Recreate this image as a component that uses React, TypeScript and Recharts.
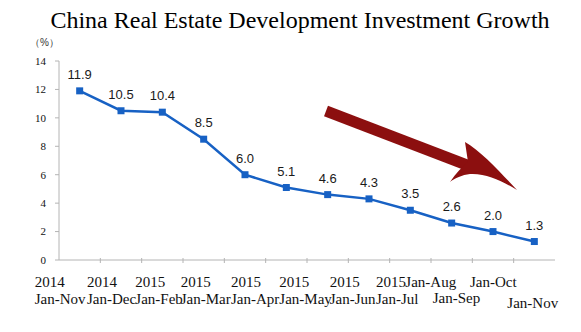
import { LineChart, Line, XAxis, YAxis, LabelList } from 'recharts'

// categories: period covered by each cumulative growth figure
const categories = [
  '2014 Jan-Nov', '2014 Jan-Dec', '2015 Jan-Feb', '2015 Jan-Mar', '2015 Jan-Apr', '2015 Jan-May',
  '2015 Jan-Jun', '2015 Jan-Jul', 'Jan-Aug', 'Jan-Sep', 'Jan-Oct', 'Jan-Nov',
]
const yearLabels = ['2014', '2014', '2015', '2015', '2015', '2015', '2015', '2015', '', '', '', '']
const periodLabels = [
  'Jan-Nov', 'Jan-Dec', 'Jan-Feb', 'Jan-Mar', 'Jan-Apr', 'Jan-May',
  'Jan-Jun', 'Jan-Jul', 'Jan-Aug', 'Jan-Sep', 'Jan-Oct', 'Jan-Nov',
]
const growth = [11.9, 10.5, 10.4, 8.5, 6.0, 5.1, 4.6, 4.3, 3.5, 2.6, 2.0, 1.3]
const yTicks = [0, 2, 4, 6, 8, 10, 12, 14]

// label placement tweaks (the source lays its labels out unevenly)
const TICK_DX = [-45, -34, -27, -23, -14, -7, 2, 7, -5, -19, -23, -27]
const PERIOD_BASELINE = [44, 44, 44, 44, 44, 44, 44, 44, 27, 43, 27, 48]

const BLUE = '#1761c4'
const GREY = '#b4b4b4'
const RED = '#8c0f0f'
const SERIF = '"Liberation Serif", "Times New Roman", serif'
const SANS = '"Liberation Sans", Arial, sans-serif'
const HALF_BAND = 496 / 12 / 2

const data = categories.map((cat, i) => ({ cat, growth: growth[i] }))

function PeriodTick(props: any) {
  const { x, y, payload } = props
  const i = payload.index
  const left = x + TICK_DX[i]
  return (
    <g>
      {/* Excel-style tick marks sit between categories */}
      {i < categories.length - 1 && (
        <line x1={x + HALF_BAND} x2={x + HALF_BAND} y1={y - 2} y2={y + 3} stroke={GREY} />
      )}
      {yearLabels[i] && (
        <text x={left} y={y + 27} textAnchor="start" fontFamily={SERIF} fontSize={15} fill="#111">
          {yearLabels[i]}
        </text>
      )}
      <text x={left} y={y + PERIOD_BASELINE[i]} textAnchor="start" fontFamily={SERIF} fontSize={15} fill="#111">
        {periodLabels[i]}
      </text>
    </g>
  )
}

function SquareDot(props: any) {
  const { cx, cy, index } = props
  if (cx == null || cy == null) return null
  return <rect key={index} x={cx - 3.5} y={cy - 3.5} width={7} height={7} fill={BLUE} />
}

export default function App() {
  return (
    <div style={{ position: 'absolute', left: 0, top: 0, width: 581, height: 332, background: '#fff' }}>
      <LineChart width={581} height={332} data={data} margin={{ top: 61, right: 26, bottom: 0, left: 0 }}>
        <XAxis
          dataKey="cat"
          interval={0}
          padding={{ left: HALF_BAND, right: HALF_BAND }}
          tickLine={false}
          tickSize={0}
          tickMargin={0}
          axisLine={{ stroke: GREY }}
          height={72}
          tick={<PeriodTick />}
        />
        <XAxis xAxisId="top" dataKey="cat" orientation="top" height={0} tick={false} tickLine={false} axisLine={{ stroke: GREY }} />
        <YAxis
          domain={[0, 14]}
          ticks={yTicks}
          width={59}
          tickSize={4}
          tickMargin={9}
          axisLine={{ stroke: GREY }}
          tickLine={{ stroke: GREY }}
          tick={{ fontFamily: SERIF, fontSize: 11, fill: '#111' }}
        />
        <YAxis yAxisId="right" orientation="right" width={0} tick={false} tickLine={false} axisLine={{ stroke: GREY }} />
        <Line
          dataKey="growth"
          stroke={BLUE}
          strokeWidth={2.5}
          dot={<SquareDot />}
          activeDot={false}
          isAnimationActive={false}
        >
          <LabelList
            dataKey="growth"
            position="top"
            offset={12}
            formatter={(v: any) => Number(v).toFixed(1)}
            style={{ fontFamily: SANS, fontSize: 13, fill: '#1a1a1a' }}
          />
        </Line>
      </LineChart>
      <svg width={581} height={332} style={{ position: 'absolute', left: 0, top: 0, pointerEvents: 'none' }}>
        <text x={300} y={28} textAnchor="middle" fontFamily={SERIF} fontSize={24} fill="#000">
          China Real Estate Development Investment Growth
        </text>
        <text x={30} y={46} fontFamily={SANS} fontSize={10} fill="#333">（%）</text>
        {/* downward trend arrow */}
        <line x1={326} y1={111} x2={472} y2={167} stroke={RED} strokeWidth={11} />
        <path
          d="M465,142 C482,152 500,172 517,190 C502,181 486,173 470,174 C462,175 455,178 450,182 C456,173 462,167 468,162 C467,155 466,149 465,142 Z"
          fill={RED}
        />
      </svg>
    </div>
  )
}
